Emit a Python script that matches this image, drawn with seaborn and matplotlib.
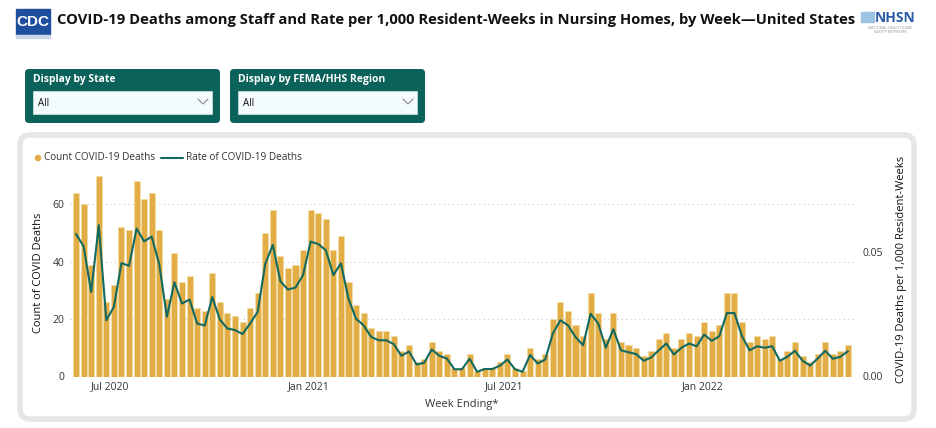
import numpy as np
import pandas as pd
import matplotlib
matplotlib.use('Agg')
import matplotlib.pyplot as plt
import seaborn as sns
from matplotlib.patches import FancyBboxPatch, Rectangle

# weekly values (week ending Sunday)
weeks = pd.date_range('2020-05-31', periods=103, freq='7D')
count_deaths = [64, 60, 39, 70, 26, 32, 52, 51, 68, 62, 64, 51, 27, 43, 33, 35, 24, 23, 36, 26,
                22, 21, 19, 24, 29, 50, 58, 42,
                38, 39, 44, 58, 57, 55, 44, 49, 33, 25, 22, 17, 16, 16, 14, 9, 11, 5, 6, 12, 9, 8, 3,
                3, 8, 2, 3, 3, 5, 8, 3, 2, 10, 6, 8, 20, 26, 23, 18, 14, 29, 22, 13, 22, 12, 11, 10,
                7, 9, 13, 15, 10, 13, 15, 14, 19, 16, 18, 29, 29, 19, 12, 14, 13, 14, 6, 9, 12, 7, 5,
                8, 12, 8, 9, 11]
rate_deaths = [.0570, .0521, .0338, .0606, .0225, .0279, .0454, .0443, .0592, .0541, .0560, .0448,
               .0239, .0377, .0292, .0308, .0212, .0204, .0318, .0228, .0192, .0186, .0170, .0212,
               .0259, .0451, .0527, .0381,
               .0348, .0356, .0406, .0540, .0530, .0506, .0406, .0453, .0311, .0231, .0205, .0158,
               .0145, .0145, .0129, .0083, .0100, .0048, .0055, .0108, .0083, .0072, .0029,
               .0029, .0071, .0019, .0030, .0030, .0043, .0068, .0029, .0019, .0086, .0052, .0068,
               .0172, .0225, .0205, .0158, .0125, .0251, .0212, .0115, .0189, .0105, .0097, .0090,
               .0063, .0076, .0105, .0132, .0088, .0115, .0132, .0121, .0168, .0143, .0161, .0254,
               .0254, .0161, .0105, .0121, .0115, .0121, .0063, .0079, .0103, .0063, .0044, .0072,
               .0103, .0071, .0079, .0101]
tick_dates = pd.to_datetime(['2020-07-01', '2021-01-01', '2021-07-01', '2022-01-01'])
tick_labels = ['Jul 2020', 'Jan 2021', 'Jul 2021', 'Jan 2022']

data = pd.DataFrame({'week': weeks, 'count': count_deaths, 'rate': rate_deaths})
data['pos'] = np.arange(len(data))

gold = '#E3AD45'
teal = '#11695F'
box_teal = '#0B625B'

sns.set_theme(style='white')
plt.rcParams['font.family'] = ['Open Sans', 'DejaVu Sans']

W, H = 936, 428
fig = plt.figure(figsize=(W / 100, H / 100), dpi=100)
fig.patch.set_facecolor('white')

# background layer in pixel coordinates
bg = fig.add_axes([0, 0, 1, 1])
bg.set_xlim(0, W)
bg.set_ylim(H, 0)
bg.axis('off')

# header
bg.add_patch(Rectangle((16, 9), 34, 25, color='#1E4F9E'))
bg.text(33, 22, 'CDC', color='white', fontsize=11, fontweight='bold', ha='center', va='center',
        family=['Liberation Sans Narrow', 'Liberation Sans'])
bg.add_patch(Rectangle((16, 35), 34, 3, color='#C9D6EA'))
bg.text(57, 20, 'COVID-19 Deaths among Staff and Rate per 1,000 Resident-Weeks in Nursing Homes, by Week\u2014United States',
        fontsize=10.6, fontweight='bold', color='#111111', ha='left', va='center')
bg.add_patch(Rectangle((861, 12), 13, 10, color='#9CC3E4'))
bg.text(875, 18, 'NHSN', color='#2A5CA8', fontsize=10, fontweight='bold', ha='left', va='center')
bg.text(890, 29.5, 'NATIONAL HEALTHCARE\nSAFETY NETWORK', color='#999999', fontsize=2.8,
        ha='center', va='center', linespacing=1.0)

# filter boxes
for x0, label in [(25, 'Display by State'), (230, 'Display by FEMA/HHS Region')]:
    bg.add_patch(FancyBboxPatch((x0, 69), 195, 54, boxstyle='round,pad=0,rounding_size=4',
                                facecolor=box_teal, edgecolor='none'))
    bg.text(x0 + 8, 79, label, color='white', fontsize=7.5, fontweight='bold', ha='left', va='center')
    bg.add_patch(Rectangle((x0 + 8, 91), 179, 23, facecolor='#F3FBFD', edgecolor='#D8E6E8', lw=0.5))
    bg.text(x0 + 13, 103, 'All', color='#111111', fontsize=7, ha='left', va='center')
    bg.plot([x0 + 173, x0 + 178, x0 + 183], [99, 104, 99], color='#8A8A8A', lw=0.8)

# chart card
bg.add_patch(FancyBboxPatch((20, 135), 894, 284, boxstyle='round,pad=0,rounding_size=10',
                            facecolor='white', edgecolor='#E6E6E6', lw=4))

# legend drawn on the card
bg.scatter([38], [158], s=22, color=gold, edgecolors='none')
bg.text(44, 158, 'Count COVID-19 Deaths', fontsize=7.2, color='#333333', ha='left', va='center')
bg.plot([161, 183], [158, 158], color=teal, lw=1.5)
bg.text(186, 158, 'Rate of COVID-19 Deaths', fontsize=7.2, color='#333333', ha='left', va='center')

# chart axes
ax = fig.add_axes([70 / W, 1 - 376.5 / H, 784 / W, 206.5 / H])
ax.set_facecolor('none')
sns.barplot(data=data, x='pos', y='count', ax=ax, color=gold, saturation=1, width=0.8,
            edgecolor='#F4DDA8', linewidth=0.5)
ax2 = ax.twinx()
sns.lineplot(data=data, x='pos', y='rate', ax=ax2, color=teal, linewidth=1.5)

ymax = 72
ax.set_ylim(0, ymax)
ax2.set_ylim(0, ymax * 0.05 / (125 / 2.87))
ax.set_xlim(-0.8, len(data) - 0.2)

ax.set_yticks([0, 20, 40, 60])
ax2.set_yticks([0, 0.05], ['0.00', '0.05'])
tick_pos = (tick_dates - weeks[0]).days / 7
ax.set_xticks(tick_pos, tick_labels)
for g in [20, 40, 60]:
    ax.axhline(g, color='#C8C8C8', lw=0.8, linestyle=(0, (1, 3)), zorder=0)

for a in (ax, ax2):
    for s in a.spines.values():
        s.set_visible(False)
    a.tick_params(length=0, labelsize=7.5, labelcolor='#333333')
ax.tick_params(axis='y', pad=4)
ax.tick_params(axis='x', pad=3)
ax2.tick_params(axis='y', pad=6)

ax.set_xlabel('Week Ending*', fontsize=8, color='#333333', labelpad=5)
ax.set_ylabel('Count of COVID Deaths', fontsize=8, color='#111111')
ax.yaxis.set_label_coords(-0.033, 0.5)
ax2.set_ylabel('COVID-19 Deaths per 1,000 Resident-Weeks', fontsize=8, color='#111111')
ax2.yaxis.set_label_coords(1.053, 0.52)

fig.savefig('out.png', dpi=100)
